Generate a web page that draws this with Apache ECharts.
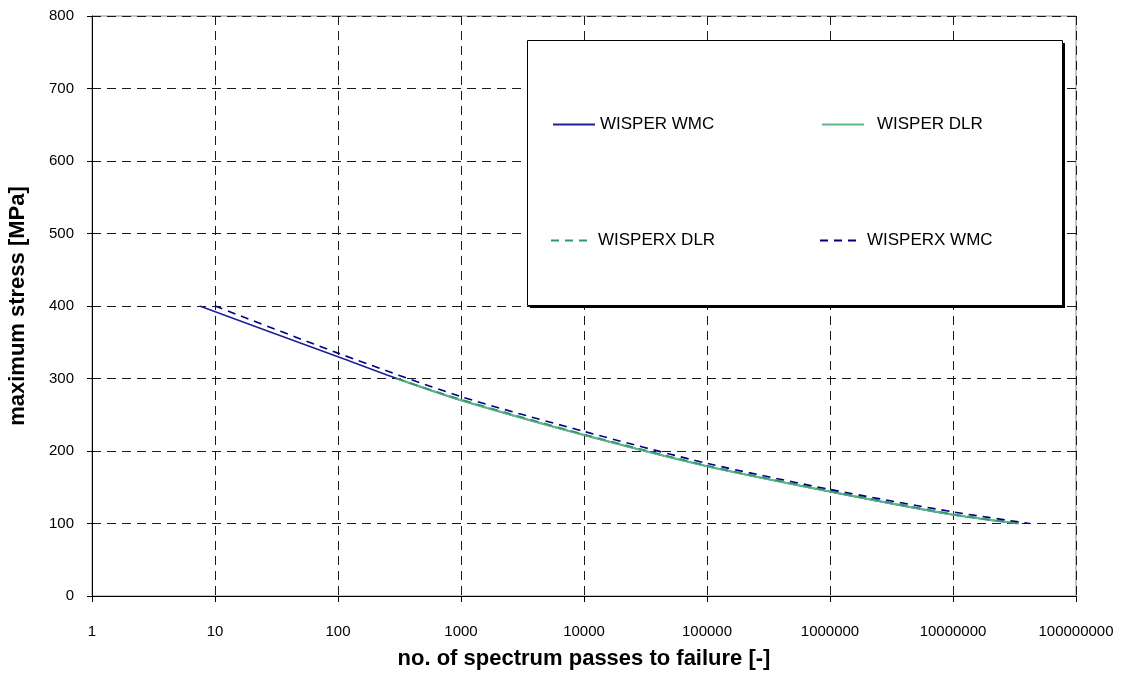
<!DOCTYPE html>
<html>
<head>
<meta charset="utf-8">
<script src="https://cdn.jsdelivr.net/npm/echarts@6/dist/echarts.min.js"></script>
<style>
  html, body { margin: 0; padding: 0; background: #fff; }
  #chart { width: 1133px; height: 675px; }
</style>
</head>
<body>
<div id="chart"></div>
<script>
// S-N curves for the WISPER / WISPERX load spectra
const xTickLabels = ['1', '10', '100', '1000', '10000', '100000', '1000000', '10000000', '100000000'];
const yTickLabels = ['0', '100', '200', '300', '400', '500', '600', '700', '800'];

const wisperWmcN = [7.5, 100, 300, 1000, 10000, 100000, 1000000, 10000000, 34000000];
const wisperWmcS = [400, 330, 300, 270, 222, 179, 144, 112, 100];

const wisperDlrN = [300, 1000, 10000, 100000, 1000000, 10000000, 34000000];
const wisperDlrS = [300, 270, 222, 179, 144, 112, 100];

const wisperxDlrN = [300, 1000, 10000, 100000, 1000000, 10000000, 33000000];
const wisperxDlrS = [300, 271, 223, 180, 145, 113, 100];

const wisperxWmcN = [10, 100, 1000, 10000, 100000, 1000000, 10000000, 42000000];
const wisperxWmcS = [400, 335, 275, 227, 183, 147, 116, 100];

const pairs = (xs, ys) => xs.map((x, i) => [x, ys[i]]);
const FONT = "'Liberation Sans', Arial, sans-serif";

const chart = echarts.init(document.getElementById('chart'), null, { renderer: 'canvas' });

function legendAt(name, left, top, textPad) {
  return {
    data: [name],
    left: left,
    top: top,
    padding: 0,
    itemWidth: 42,
    itemHeight: 14,
    selectedMode: false,
    z: 20,
    itemStyle: { opacity: 0 },
    textStyle: { fontFamily: FONT, fontSize: 17, color: '#000', padding: [0, 0, 0, textPad || 0] }
  };
}

chart.setOption({
  animation: false,
  backgroundColor: '#fff',
  textStyle: { fontFamily: FONT },
  grid: {
    left: 92, right: 57, top: 16, bottom: 79,
    outerBoundsMode: 'none',
    containLabel: false,
    show: true, borderColor: '#8c8c8c', borderWidth: 1, backgroundColor: 'transparent'
  },
  graphic: [
    {
      // drop shadow of the legend frame
      type: 'rect', z: 10, silent: true,
      shape: { x: 530, y: 43, width: 535, height: 265 },
      style: { fill: '#000' }
    },
    {
      type: 'rect', z: 11, silent: true,
      shape: { x: 527.5, y: 40.5, width: 535, height: 265 },
      style: { fill: '#fff', stroke: '#000', lineWidth: 1 }
    }
  ],
  legend: [
    legendAt('WISPER WMC', 552, 116),
    legendAt('WISPER DLR', 821, 116, 8),
    legendAt('WISPERX DLR', 550, 232),
    legendAt('WISPERX WMC', 819, 232)
  ],
  xAxis: {
    type: 'log',
    logBase: 10,
    min: 1,
    max: 100000000,
    splitNumber: 8,
    name: 'no. of spectrum passes to failure [-]',
    nameLocation: 'middle',
    nameGap: 52,
    nameTextStyle: { fontFamily: FONT, fontSize: 22, fontWeight: 'bold', color: '#000' },
    axisLine: { show: true, onZero: false, lineStyle: { color: '#000', width: 1 } },
    axisTick: { show: true, length: 6, lineStyle: { color: '#000' } },
    minorTick: { show: false },
    axisLabel: {
      fontFamily: FONT, fontSize: 15, color: '#000', margin: 28,
      formatter: v => xTickLabels[Math.round(Math.log10(v))]
    },
    splitLine: { show: true, lineStyle: { color: '#1a1a1a', width: 1, type: [9, 6] } }
  },
  yAxis: {
    type: 'value',
    min: 0,
    max: 800,
    interval: 100,
    name: 'maximum stress [MPa]',
    nameLocation: 'middle',
    nameGap: 63,
    nameRotate: 90,
    nameTextStyle: { fontFamily: FONT, fontSize: 22, fontWeight: 'bold', color: '#000' },
    axisLine: { show: true, lineStyle: { color: '#000', width: 1 } },
    axisTick: { show: true, length: 5, lineStyle: { color: '#000' } },
    axisLabel: {
      fontFamily: FONT, fontSize: 15, color: '#000', margin: 18,
      formatter: v => yTickLabels[Math.round(v / 100)]
    },
    splitLine: { show: true, lineStyle: { color: '#1a1a1a', width: 1, type: [9, 6] } }
  },
  series: [
    {
      name: 'WISPER WMC', type: 'line', symbol: 'none', smooth: 0.25,
      data: pairs(wisperWmcN, wisperWmcS),
      color: '#1f1f99',
      lineStyle: { color: '#1f1f99', width: 1.6, type: 'solid' }, z: 2
    },
    {
      name: 'WISPER DLR', type: 'line', symbol: 'none', smooth: 0.25,
      data: pairs(wisperDlrN, wisperDlrS),
      color: '#5cb88a',
      lineStyle: { color: '#5cb88a', width: 2, type: 'solid' }, z: 3
    },
    {
      name: 'WISPERX DLR', type: 'line', symbol: 'none', smooth: 0.25,
      data: pairs(wisperxDlrN, wisperxDlrS),
      color: '#2e9a62',
      lineStyle: { color: '#2e9a62', width: 1.6, type: [8, 6] }, z: 4
    },
    {
      name: 'WISPERX WMC', type: 'line', symbol: 'none', smooth: 0.25,
      data: pairs(wisperxWmcN, wisperxWmcS),
      color: '#000080',
      lineStyle: { color: '#000080', width: 1.6, type: [8, 6] }, z: 5
    }
  ]
});
</script>
</body>
</html>
